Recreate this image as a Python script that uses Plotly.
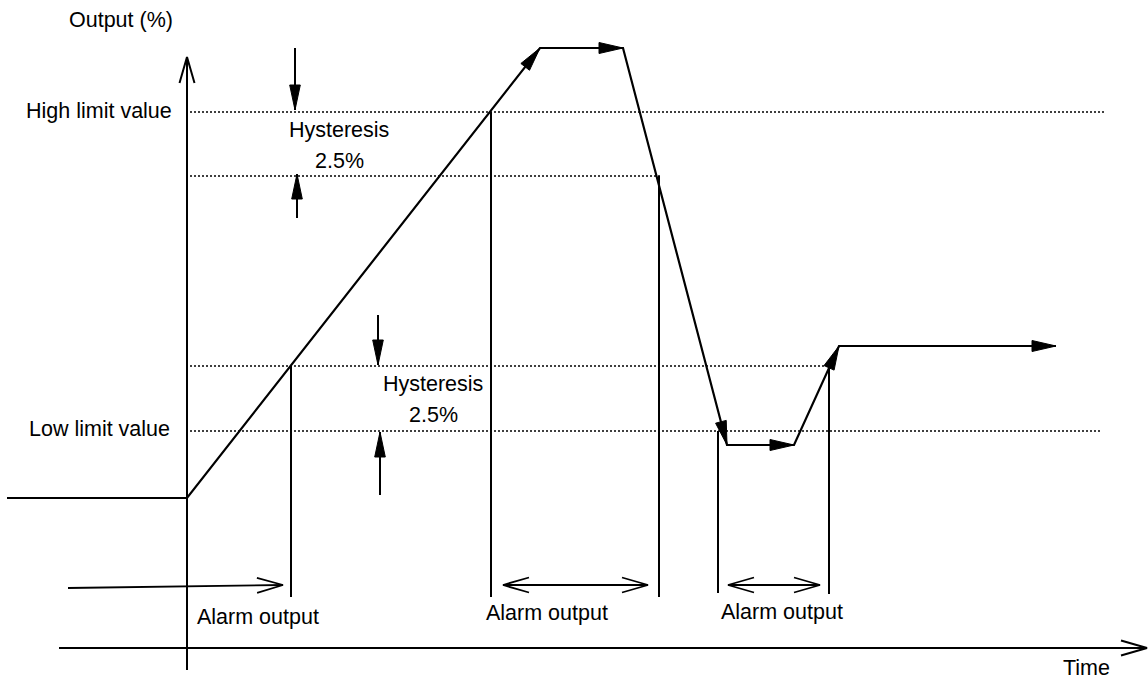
import numpy as np
import plotly.graph_objs as go

# canvas is laid out in pixel units (x right, y down)
W, H = 1148, 683

# output signal (polyline), arrowheads on every segment after the first
signal_x = [7, 187, 540, 623, 727, 794, 839, 1056]
signal_y = [498, 498, 48, 48, 445, 445, 346, 346]

# limit levels (dotted guides)
level_names = ["High limit value", "high - hysteresis", "low + hysteresis", "Low limit value"]
level_y = [112, 176, 366, 431]
level_x_end = [1105, 660, 829, 1102]

# alarm switching markers (vertical lines)
marker_x = [291, 491, 659, 718, 829]
marker_top = [366, 112, 176, 431, 366]
marker_bottom = [597, 597, 597, 593, 594]

# alarm output spans
alarm_x0 = [68, 503, 728]
alarm_x1 = [283, 648, 820]
alarm_y0 = [588, 585, 585]
alarm_y1 = [585, 585, 585]
alarm_both = [False, True, True]
alarm_label_x = [258, 547, 782]
alarm_label_y = [617, 613, 612]

# hysteresis dimension arrows: x, tail y, tip y
hyst_x = [295, 297, 378, 380]
hyst_tail = [48, 218, 315, 495]
hyst_tip = [110, 174, 365, 432]
hyst_label_x = [339, 433]
hyst_label_y = [[130, 161], [384, 415]]

FONT = dict(family="Liberation Sans, Arial", size=21.5, color="black")


def filled_head(x0, y0, x1, y1, L=24, w=5.5):
    d = np.array([x1 - x0, y1 - y0], float)
    u = d / np.hypot(*d)
    n = np.array([-u[1], u[0]])
    tip = np.array([x1, y1], float)
    b = tip - L * u
    p1, p2 = b + w * n, b - w * n
    return [tip[0], p1[0], p2[0], tip[0], None], [tip[1], p1[1], p2[1], tip[1], None]


def open_head(x0, y0, x1, y1, L=26, w=7.5):
    d = np.array([x1 - x0, y1 - y0], float)
    u = d / np.hypot(*d)
    n = np.array([-u[1], u[0]])
    tip = np.array([x1, y1], float)
    b = tip - L * u
    p1, p2 = b + w * n, b - w * n
    return [p1[0], tip[0], p2[0], None], [p1[1], tip[1], p2[1], None]


fig = go.Figure()

# dotted guide lines
gx, gy = [], []
for y, xe in zip(level_y, level_x_end):
    gx += [190, xe, None]
    gy += [y, y, None]
fig.add_trace(go.Scatter(x=gx, y=gy, mode="lines", line=dict(color="black", width=1.5, dash="2px,2px"), hoverinfo="skip"))

# axes with open arrowheads
ax_x = [187, 187, None, 59, 1147, None]
ax_y = [670, 57, None, 648, 648, None]
hx, hy = open_head(187, 670, 187, 57)
ax_x += hx; ax_y += hy
hx, hy = open_head(59, 648, 1147, 648)
ax_x += hx; ax_y += hy
fig.add_trace(go.Scatter(x=ax_x, y=ax_y, mode="lines", line=dict(color="black", width=2), hoverinfo="skip"))

# signal
fig.add_trace(go.Scatter(x=signal_x, y=signal_y, mode="lines", line=dict(color="black", width=2.2), hoverinfo="skip"))

# marker lines
mx, my = [], []
for x, t, b in zip(marker_x, marker_top, marker_bottom):
    mx += [x, x, None]
    my += [t, b, None]
fig.add_trace(go.Scatter(x=mx, y=my, mode="lines", line=dict(color="black", width=2), hoverinfo="skip"))

# alarm output arrows
axx, ayy = [], []
for x0, x1, y0, y1, both in zip(alarm_x0, alarm_x1, alarm_y0, alarm_y1, alarm_both):
    axx += [x0, x1, None]
    ayy += [y0, y1, None]
    hx, hy = open_head(x0, y0, x1, y1)
    axx += hx; ayy += hy
    if both:
        hx, hy = open_head(x1, y1, x0, y0)
        axx += hx; ayy += hy
fig.add_trace(go.Scatter(x=axx, y=ayy, mode="lines", line=dict(color="black", width=1.8), hoverinfo="skip"))

# hysteresis arrows (stems)
sx, sy = [], []
for x, t0, t1 in zip(hyst_x, hyst_tail, hyst_tip):
    sx += [x, x, None]
    sy += [t0, t1, None]
fig.add_trace(go.Scatter(x=sx, y=sy, mode="lines", line=dict(color="black", width=2), hoverinfo="skip"))

# filled arrowheads
fx, fy = [], []
for i in range(1, len(signal_x) - 1):
    hx, hy = filled_head(signal_x[i], signal_y[i], signal_x[i + 1], signal_y[i + 1])
    fx += hx; fy += hy
for x, t0, t1 in zip(hyst_x, hyst_tail, hyst_tip):
    hx, hy = filled_head(x, t0, x, t1, L=25, w=5.3)
    fx += hx; fy += hy
fig.add_trace(go.Scatter(x=fx, y=fy, mode="lines", fill="toself", fillcolor="black",
                         line=dict(color="black", width=1), hoverinfo="skip"))

# texts
texts = [
    ("Output (%)", 121, 20, "center"),
    ("High limit value", 174, 111, "right"),
    ("Low limit value", 172, 429, "right"),
    ("Time", 1086, 668, "center"),
]
for i in range(2):
    texts.append(("Hysteresis", hyst_label_x[i], hyst_label_y[i][0], "center"))
    texts.append(("2.5%", hyst_label_x[i], hyst_label_y[i][1], "center"))
for x, y in zip(alarm_label_x, alarm_label_y):
    texts.append(("Alarm output", x, y, "center"))

for t, x, y, anchor in texts:
    fig.add_annotation(x=x, y=y, text=t, showarrow=False, xanchor=anchor, yanchor="middle",
                       font=FONT, xref="x", yref="y")

fig.update_xaxes(range=[0, W], visible=False, fixedrange=True)
fig.update_yaxes(range=[H, 0], visible=False, fixedrange=True)
fig.update_layout(width=W, height=H, margin=dict(l=0, r=0, t=0, b=0), showlegend=False,
                  paper_bgcolor="white", plot_bgcolor="white")

fig.write_html("out.html", config={"displayModeBar": False},
               post_script="document.body.style.margin='0';")
